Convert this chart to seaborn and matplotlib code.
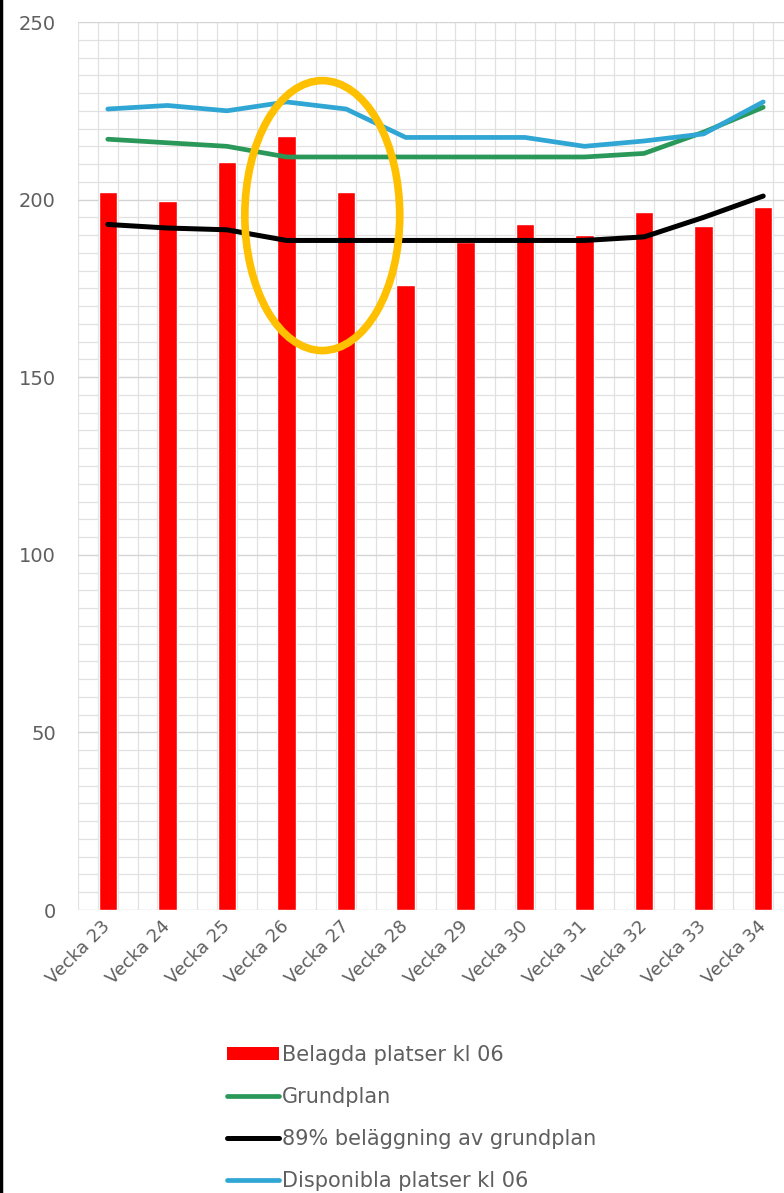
import numpy as np
import pandas as pd
import seaborn as sns
import matplotlib.pyplot as plt
from matplotlib.patches import Ellipse, Patch
from matplotlib.lines import Line2D

weeks = ["Vecka 23", "Vecka 24", "Vecka 25", "Vecka 26", "Vecka 27", "Vecka 28",
         "Vecka 29", "Vecka 30", "Vecka 31", "Vecka 32", "Vecka 33", "Vecka 34"]
belagda = [202, 199.5, 210.5, 218, 202, 176, 188, 193, 190, 196.5, 192.5, 198]
grundplan = [217, 216, 215, 212, 212, 212, 212, 212, 212, 213, 219, 226]
belaggning_89 = [193, 192, 191.5, 188.5, 188.5, 188.5, 188.5, 188.5, 188.5, 189.5, 195, 201]
disponibla = [225.5, 226.5, 225, 227.5, 225.5, 217.5, 217.5, 217.5, 215, 216.5, 218.5, 227.5]

labels = ["Belagda platser kl 06", "Grundplan", "89% beläggning av grundplan",
          "Disponibla platser kl 06"]

sns.set_style("white")
plt.rcParams["font.family"] = ["DejaVu Sans"]

fig = plt.figure(figsize=(7.84, 11.93), dpi=100)
ax = fig.add_axes([78 / 784, 283 / 1193, 715 / 784, 888 / 1193])

df = pd.DataFrame({"week": weeks, "belagda": belagda})
sns.barplot(data=df, x="week", y="belagda", color="#FF0000", saturation=1,
            width=0.31, ax=ax, zorder=3)

x = np.arange(len(weeks))
sns.lineplot(x=x, y=grundplan, color="#2A9858", lw=3.4, ax=ax, zorder=4)
sns.lineplot(x=x, y=disponibla, color="#2FA6D3", lw=3.4, ax=ax, zorder=4)
sns.lineplot(x=x, y=belaggning_89, color="#000000", lw=3.6, ax=ax, zorder=5)

n = len(weeks)
ax.set_yticks(np.arange(0, 251, 50))
ax.set_yticks(np.arange(0, 251, 5), minor=True)
ax.set_xticks(-0.5 + np.arange(3 * n + 1) / 3, minor=True)
ax.set_xticks(x)
ax.set_xticklabels(weeks, rotation=45, ha="right", va="center", rotation_mode="anchor")
ax.set_xlim(-0.5, n - 0.5)
ax.set_ylim(0, 250)
ax.grid(True, which="minor", color="#E1E1E1", lw=0.9, zorder=0)
ax.grid(True, which="major", axis="y", color="#D4D4D4", lw=1.0, zorder=0)
ax.set_axisbelow(True)
for s in ax.spines.values():
    s.set_visible(False)
ax.set_xlabel("")
ax.set_ylabel("")
ax.tick_params(axis="both", which="both", length=0)
ax.tick_params(axis="y", labelsize=14, labelcolor="#5F5F5F", pad=16)
ax.tick_params(axis="x", labelsize=13, labelcolor="#5F5F5F", pad=10)

# highlight ring
ax.add_patch(Ellipse((3.6, 195.5), 2.6, 76, fill=False, edgecolor="#FFC000",
                     lw=5.5, zorder=6, clip_on=False))

handles = [
    Patch(facecolor="#FF0000", edgecolor="none"),
    Line2D([], [], color="#2A9858", lw=3.4),
    Line2D([], [], color="#000000", lw=3.6),
    Line2D([], [], color="#2FA6D3", lw=3.4),
]
fig.legend(handles, labels, loc="upper left", bbox_to_anchor=(227 / 784, 1 - 1045 / 1193),
           frameon=False, fontsize=15, handlelength=2.5, handleheight=0.6,
           handletextpad=0.15, labelspacing=1.06, borderpad=0, borderaxespad=0,
           labelcolor="#5F5F5F")

# dark screenshot edge on the left
fig.add_artist(Line2D([0.0015, 0.0015], [0, 1], transform=fig.transFigure,
                      color="black", lw=2.5))

fig.savefig("out.png", dpi=100)
